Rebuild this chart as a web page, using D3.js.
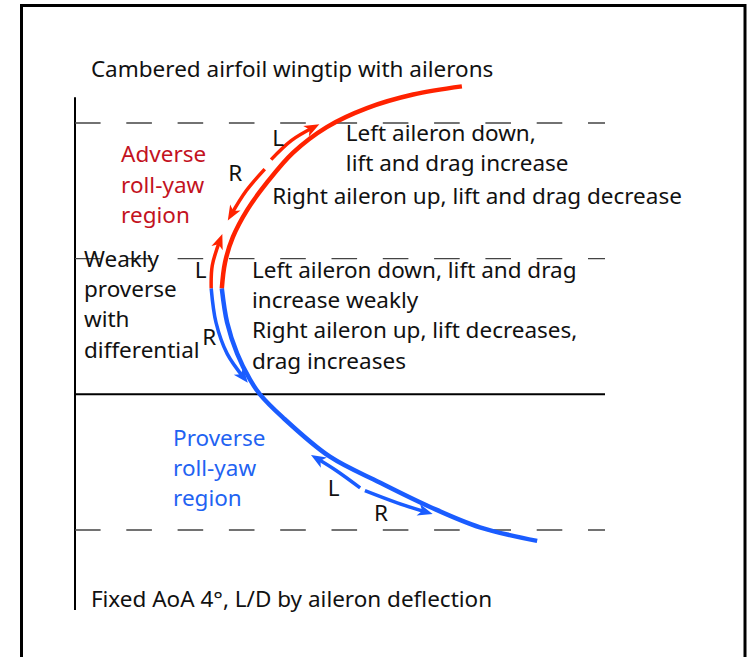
<!DOCTYPE html>
<html>
<head>
<meta charset="utf-8">
<script src="https://cdn.jsdelivr.net/npm/d3@7"></script>
<style>
  body { margin: 0; background: #fff; }
  svg { display: block; }
  text { font-family: "Noto Sans", sans-serif; font-size: 22.5px; fill: #111; }
</style>
</head>
<body>
<svg></svg>
<script>
// DATA (drag units along x, lift units along y)
const dragRed = [7.30, 6.38, 5.51, 4.75, 4.11, 3.62, 3.25, 2.98, 2.83, 2.77]
const liftRed = [3.27, 3.21, 3.11, 2.97, 2.78, 2.56, 2.36, 2.16, 1.97, 1.78]

const dragBlue = [2.77, 2.87, 3.06, 3.30, 3.49, 3.92, 4.81, 5.75, 6.70, 7.64, 8.72]
const liftBlue = [1.78, 1.53, 1.30, 1.11, 1.00, 0.83, 0.54, 0.35, 0.17, 0.02, -0.08]

// aileron deflection arrows, [drag, lift] from tail to head
const redLeftArrow = [[3.70, 2.73], [4.08, 2.87], [4.51, 2.97]]
const redRightArrow = [[3.58, 2.66], [3.23, 2.50], [2.94, 2.32]]
const redWeakArrow = [[2.57, 1.78], [2.59, 1.95], [2.74, 2.14]]
const blueWeakArrow = [[2.57, 1.78], [2.66, 1.53], [2.87, 1.30], [3.19, 1.12]]
const blueLeftArrow = [[5.38, 0.31], [4.92, 0.44], [4.55, 0.53]]
const blueRightArrow = [[5.47, 0.29], [6.08, 0.20], [6.64, 0.13]]

// region boundaries (lift levels)
const levels = [3, 2, 1, 0]
const levelSolid = [false, false, true, false]

const arrowLetters = ["L", "R", "L", "R", "L", "R"]
const letterDrag = [3.72, 2.89, 2.26, 2.40, 4.77, 5.64]
const letterLift = [2.83, 2.57, 1.86, 1.36, 0.25, 0.07]

const noteLines = [
  ["Cambered airfoil wingtip with ailerons"],
  ["Left aileron down,", "lift and drag increase"],
  ["Right aileron up, lift and drag decrease"],
  ["Adverse", "roll-yaw", "region"],
  ["Weakly", "proverse", "with", "differential"],
  ["Left aileron down, lift and drag", "increase weakly", "Right aileron up, lift decreases,", "drag increases"],
  ["Proverse", "roll-yaw", "region"],
  ["Fixed AoA 4°, L/D by aileron deflection"]
]
const noteDrag = [0.30, 5.11, 3.72, 0.87, 0.17, 3.34, 1.85, 0.30]
const noteLift = [3.34, 2.87, 2.40, 2.71, 1.94, 1.86, 0.62, -0.57]
const noteKind = ["plain", "plain", "plain", "adverse", "plain", "plain", "proverse", "plain"]

// SETUP
const RED = "#ff2200"
const BLUE = "#1a5cff"
const noteColor = { plain: "#111", adverse: "#c3121e", proverse: "#1f63f2" }

const svg = d3.select("svg")
  .attr("width", 748)
  .attr("height", 657)

const x = d3.scaleLinear()
  .domain([0, 10])
  .range([75, 605])

const y = d3.scaleLinear()
  .domain([0, 3])
  .range([530, 123])

// frame
svg.append("rect")
  .attr("x", 21.5)
  .attr("y", 5.5)
  .attr("width", 723.5)
  .attr("height", 700)
  .attr("fill", "none")
  .attr("stroke", "#000")
  .attr("stroke-width", 3)

const defs = svg.append("defs")
const addMarker = (id, color) => {
  defs.append("marker")
    .attr("id", id)
    .attr("viewBox", "-12 -8 20 16")
    .attr("markerUnits", "userSpaceOnUse")
    .attr("markerWidth", 20)
    .attr("markerHeight", 16)
    .attr("refX", 0)
    .attr("refY", 0)
    .attr("orient", "auto")
    .append("path")
    .attr("d", "M6,0L-9,-6L-5,0L-9,6Z")
    .attr("fill", color)
}
addMarker("head-red", RED)
addMarker("head-blue", BLUE)

// vertical axis
svg.append("line")
  .attr("x1", x(0)).attr("x2", x(0))
  .attr("y1", y(3.19)).attr("y2", y(-0.59))
  .attr("stroke", "#000")
  .attr("stroke-width", 2)

// region lines
svg.selectAll("line.level")
  .data(levels)
  .enter()
  .append("line")
  .attr("class", "level")
  .attr("x1", x(0))
  .attr("x2", x(10))
  .attr("y1", d => y(d))
  .attr("y2", d => y(d))
  .attr("stroke", (d, i) => levelSolid[i] ? "#000" : "#444")
  .attr("stroke-width", (d, i) => levelSolid[i] ? 2 : 1.3)
  .attr("stroke-dasharray", (d, i) => levelSolid[i] ? null : "25.6,25.7")

// polar curve
const line = d3.line()
  .x(d => x(d[0]))
  .y(d => y(d[1]))
  .curve(d3.curveCatmullRom)

svg.append("path")
  .datum(d3.zip(dragRed, liftRed))
  .attr("d", line)
  .attr("fill", "none")
  .attr("stroke", RED)
  .attr("stroke-width", 4.5)

svg.append("path")
  .datum(d3.zip(dragBlue, liftBlue))
  .attr("d", line)
  .attr("fill", "none")
  .attr("stroke", BLUE)
  .attr("stroke-width", 4.5)

// arrows
const arrows = [
  [redLeftArrow, RED, "head-red"],
  [redRightArrow, RED, "head-red"],
  [redWeakArrow, RED, "head-red"],
  [blueWeakArrow, BLUE, "head-blue"],
  [blueLeftArrow, BLUE, "head-blue"],
  [blueRightArrow, BLUE, "head-blue"]
]

svg.selectAll("path.arrow")
  .data(arrows)
  .enter()
  .append("path")
  .attr("class", "arrow")
  .attr("d", d => line(d[0]))
  .attr("fill", "none")
  .attr("stroke", d => d[1])
  .attr("stroke-width", 3.5)
  .attr("marker-end", d => `url(#${d[2]})`)

// letters
svg.selectAll("text.letter")
  .data(arrowLetters)
  .enter()
  .append("text")
  .attr("class", "letter")
  .attr("x", (d, i) => x(letterDrag[i]))
  .attr("y", (d, i) => y(letterLift[i]))
  .text(d => d)

// notes
const notes = svg.selectAll("text.note")
  .data(noteLines)
  .enter()
  .append("text")
  .attr("class", "note")
  .attr("x", (d, i) => x(noteDrag[i]))
  .attr("y", (d, i) => y(noteLift[i]))
  .style("fill", (d, i) => noteColor[noteKind[i]])

notes.each(function (d, i) {
  d3.select(this)
    .selectAll("tspan")
    .data(d)
    .enter()
    .append("tspan")
    .attr("x", x(noteDrag[i]))
    .attr("dy", (t, j) => j === 0 ? 0 : 30.3)
    .text(t => t)
})
</script>
</body>
</html>
